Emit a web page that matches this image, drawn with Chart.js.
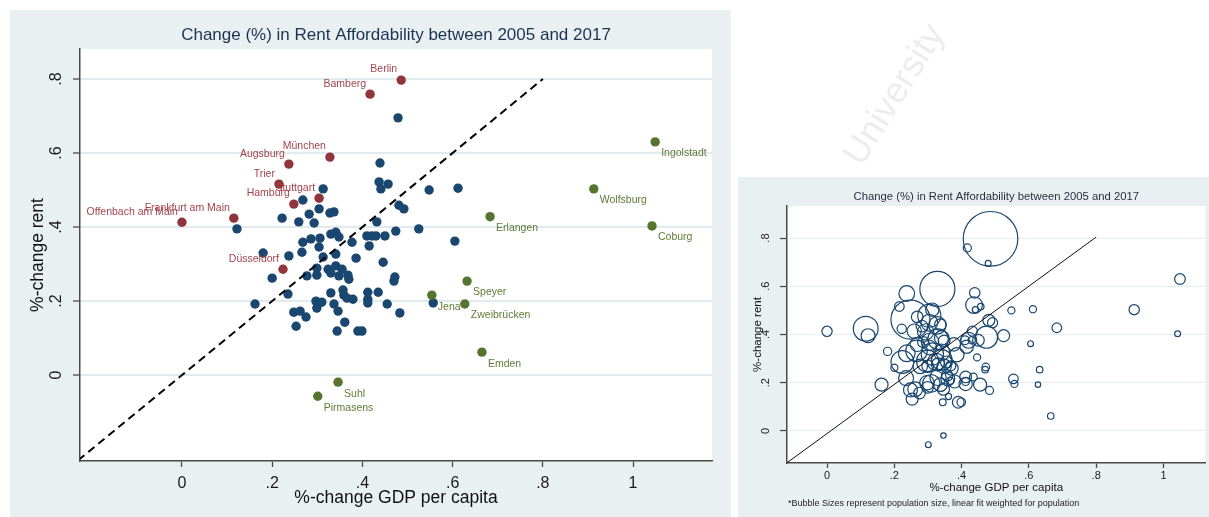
<!DOCTYPE html>
<html>
<head>
<meta charset="utf-8">
<title>Rent affordability 2005-2017</title>
<script src="https://cdn.jsdelivr.net/npm/chart.js@4.4.1/dist/chart.umd.min.js"></script>
<style>
  html, body { margin: 0; padding: 0; background: #fff; }
  body { width: 1209px; height: 517px; position: relative; overflow: hidden; }
  #bg { position: absolute; left: 0; top: 0; }
  .panel { position: absolute; }
  #mainWrap { left: 10px; top: 10px; width: 721px; height: 507px; }
  /* wider than the window: the bubble controller reserves room for its biggest bubble on the right */
  #bubbleWrap { left: 738px; top: 177px; width: 496px; height: 340px; }
</style>
</head>
<body>
<canvas id="bg" width="1209" height="517"></canvas>
<div class="panel" id="mainWrap"><canvas id="mainChart"></canvas></div>
<div class="panel" id="bubbleWrap"><canvas id="bubbleChart"></canvas></div>
<script>
const FONT = '"Liberation Sans", Arial, sans-serif';
Chart.defaults.font.family = FONT;

// unlabelled cities: %-change GDP per capita, %-change rent, population (thousands)
const otherGdp = [0.479, 0.439, 0.437, 0.441, 0.457, 0.313, 0.548, 0.612, 0.268, 0.481,
  0.492, 0.304, 0.282, 0.328, 0.337, 0.222, 0.259, 0.293, 0.432, 0.122,
  0.474, 0.525, 0.330, 0.341, 0.348, 0.306, 0.286, 0.268, 0.304, 0.377,
  0.410, 0.421, 0.430, 0.450, 0.415, 0.605, 0.266, 0.237, 0.180, 0.313,
  0.341, 0.386, 0.446, 0.200, 0.277, 0.299, 0.299, 0.324, 0.330, 0.341,
  0.355, 0.348, 0.368, 0.370, 0.472, 0.470, 0.235, 0.162, 0.297, 0.310,
  0.299, 0.330, 0.337, 0.346, 0.357, 0.359, 0.366, 0.379, 0.412, 0.412,
  0.412, 0.435, 0.455, 0.483, 0.248, 0.262, 0.275, 0.253, 0.361, 0.344,
  0.390, 0.399, 0.557];
const otherRent = [0.695, 0.573, 0.522, 0.503, 0.516, 0.503, 0.500, 0.505, 0.473, 0.459,
  0.449, 0.449, 0.435, 0.438, 0.441, 0.424, 0.414, 0.411, 0.414, 0.395,
  0.389, 0.395, 0.381, 0.386, 0.373, 0.370, 0.368, 0.359, 0.346, 0.359,
  0.376, 0.376, 0.376, 0.376, 0.349, 0.362, 0.332, 0.322, 0.330, 0.319,
  0.327, 0.316, 0.305, 0.262, 0.268, 0.289, 0.270, 0.286, 0.276, 0.295,
  0.286, 0.268, 0.270, 0.259, 0.265, 0.254, 0.219, 0.192, 0.200, 0.197,
  0.181, 0.222, 0.192, 0.173, 0.230, 0.216, 0.208, 0.205, 0.224, 0.205,
  0.195, 0.224, 0.192, 0.168, 0.170, 0.173, 0.157, 0.132, 0.143, 0.119,
  0.119, 0.119, 0.195];
const otherPop = [40, 130, 330, 45, 50, 210, 60, 60, 160, 170,
  120, 330, 160, 360, 160, 100, 240, 310, 120, 230,
  580, 170, 500, 250, 160, 360, 150, 240, 250, 210,
  90, 300, 60, 160, 210, 40, 545, 330, 80, 585,
  310, 240, 60, 60, 250, 580, 160, 350, 200, 500,
  170, 245, 120, 210, 70, 50, 265, 200, 245, 365,
  160, 310, 220, 170, 150, 230, 60, 200, 160, 75,
  210, 70, 200, 75, 230, 260, 160, 170, 45, 55,
  160, 85, 60];

// rent grew faster than income
const highCities = ['Berlin', 'Bamberg', 'München', 'Augsburg', 'Trier', 'Stuttgart',
  'Hamburg', 'Frankfurt am Main', 'Offenbach am Main', 'Düsseldorf'];
const highGdp = [0.486, 0.417, 0.328, 0.237, 0.215, 0.304, 0.248, 0.115, 0.000, 0.224];
const highRent = [0.797, 0.759, 0.589, 0.570, 0.516, 0.478, 0.462, 0.424, 0.413, 0.286];
const highPop = [3520, 77, 1450, 290, 110, 630, 1800, 730, 125, 610];

// income grew faster than rent
const lowCities = ['Ingolstadt', 'Wolfsburg', 'Coburg', 'Erlangen', 'Speyer', 'Jena',
  'Zweibrücken', 'Emden', 'Suhl', 'Pirmasens'];
const lowGdp = [1.049, 0.913, 1.042, 0.683, 0.632, 0.554, 0.627, 0.665, 0.346, 0.301];
const lowRent = [0.630, 0.503, 0.403, 0.428, 0.254, 0.216, 0.192, 0.062, -0.019, -0.057];
const lowPop = [135, 124, 41, 110, 50, 110, 34, 50, 35, 40];

// 45 degree reference line and weighted fit
const diagX = [-0.23, 0.8];
const diagY = [-0.23, 0.8];
const fitX = [-0.12, 0.8];
const fitY = [-0.133, 0.804];

const xTicks = [0, 0.2, 0.4, 0.6, 0.8, 1];
const xTickLabels = ['0', '.2', '.4', '.6', '.8', '1'];
const yTicks = [0, 0.2, 0.4, 0.6, 0.8];
const yTickLabels = ['0', '.2', '.4', '.6', '.8'];

const TITLE = 'Change (%) in Rent Affordability between 2005 and 2017';
const NAVY = '#1a476f';
const MAROON = '#90353b';
const OLIVE = '#55752f';

const pts = (xs, ys) => xs.map((x, i) => ({ x, y: ys[i] }));

// faint seal lettering behind the panels
(function drawBackdrop() {
  const g = document.getElementById('bg').getContext('2d');
  g.save();
  g.translate(895, 95);
  g.rotate(-58 * Math.PI / 180);
  g.font = '36px ' + FONT;
  g.fillStyle = '#ededed';
  g.textAlign = 'center';
  g.textBaseline = 'middle';
  g.fillText('University', 0, 0);
  g.restore();
})();

// grey graph region, white plot region, heading over the plot, optional note
const panelBg = {
  id: 'panelBg',
  beforeDraw(chart, args, o) {
    const { ctx, chartArea: a } = chart;
    ctx.save();
    ctx.fillStyle = o.outer;
    ctx.fillRect(0, 0, chart.width, chart.height);
    ctx.fillStyle = '#ffffff';
    ctx.fillRect(a.left, a.top, a.right - a.left, a.bottom - a.top);
    ctx.font = o.titleSize + 'px ' + FONT;
    ctx.fillStyle = o.titleColor;
    ctx.textAlign = 'center';
    ctx.textBaseline = 'middle';
    ctx.fillText(TITLE, (a.left + a.right) / 2, o.titleY);
    if (o.note) {
      ctx.font = '9px ' + FONT;
      ctx.fillStyle = '#222';
      ctx.textAlign = 'left';
      ctx.fillText(o.note, a.left + 1, o.noteY);
    }
    ctx.restore();
  }
};

// city names next to the coloured markers
const cityLabels = {
  id: 'cityLabels',
  afterDatasetsDraw(chart) {
    const { ctx, scales: { x, y } } = chart;
    ctx.save();
    ctx.font = '10.5px ' + FONT;
    ctx.textBaseline = 'middle';
    ctx.fillStyle = '#a2434d';
    ctx.textAlign = 'right';
    highCities.forEach((name, i) => {
      ctx.fillText(name, x.getPixelForValue(highGdp[i]) - 4, y.getPixelForValue(highRent[i]) - 10.5);
    });
    ctx.fillStyle = '#5e7c36';
    ctx.textAlign = 'left';
    lowCities.forEach((name, i) => {
      ctx.fillText(name, x.getPixelForValue(lowGdp[i]) + 6, y.getPixelForValue(lowRent[i]) + 11.5);
    });
    ctx.restore();
  }
};

function xAxis(cfg) {
  return {
    type: 'linear', min: cfg.min, max: cfg.max,
    afterBuildTicks: s => { s.ticks = xTicks.map(v => ({ value: v })); },
    afterFit: s => { s.height = cfg.height; },
    ticks: {
      callback: (v, i) => xTickLabels[i], autoSkip: false, maxRotation: 0,
      font: { size: cfg.tickSize }, color: '#1a1a1a', padding: cfg.tickPad
    },
    grid: { drawOnChartArea: false, tickLength: cfg.tickLen, tickColor: '#4a4a4a', tickWidth: 1.3 },
    border: { color: '#4a4a4a', width: 1.5 },
    title: {
      display: true, text: '%-change GDP per capita', color: '#111',
      font: { size: cfg.titleSize }, padding: { top: 0, bottom: cfg.titlePad }
    }
  };
}

function yAxis(cfg) {
  return {
    type: 'linear', min: cfg.min, max: cfg.max,
    afterBuildTicks: s => { s.ticks = yTicks.map(v => ({ value: v })); },
    afterFit: s => { s.width = cfg.width; },
    ticks: {
      callback: (v, i) => yTickLabels[i], autoSkip: false,
      minRotation: 90, maxRotation: 90, crossAlign: 'center',
      font: { size: cfg.tickSize }, color: '#1a1a1a', padding: cfg.tickPad
    },
    grid: { color: cfg.gridColor, lineWidth: cfg.gridWidth, tickLength: 7, tickColor: '#4a4a4a', tickWidth: 1.3 },
    border: { color: '#4a4a4a', width: 1.5 },
    title: {
      display: true, text: '%-change rent', color: '#111',
      font: { size: cfg.titleSize }, padding: { top: cfg.titlePad, bottom: 0 }
    }
  };
}

const dot = (xs, ys, color) => ({
  data: pts(xs, ys), backgroundColor: color, borderColor: color,
  borderWidth: 0, pointRadius: 4.7, pointHoverRadius: 4.7
});

new Chart(document.getElementById('mainChart'), {
  type: 'scatter',
  data: {
    datasets: [
      {
        data: pts(diagX, diagY), showLine: true, borderColor: '#000', borderWidth: 2,
        borderDash: [8, 5], pointRadius: 0, fill: false
      },
      dot(lowGdp, lowRent, OLIVE),
      dot(highGdp, highRent, MAROON),
      dot(otherGdp, otherRent, NAVY)
    ]
  },
  options: {
    responsive: true, maintainAspectRatio: false, animation: false, events: [],
    layout: { padding: { top: 39, right: 19, bottom: 0, left: 0 } },
    scales: {
      x: xAxis({ min: -0.226, max: 1.175, height: 56, tickSize: 16, tickPad: 7, tickLen: 6, titleSize: 17.5, titlePad: 8.5 }),
      y: yAxis({ min: -0.232, max: 0.881, width: 70, tickSize: 16, tickPad: 10, titleSize: 17.5, titlePad: 18, gridColor: '#e1eaee', gridWidth: 2 })
    },
    plugins: {
      legend: { display: false }, tooltip: { enabled: false },
      panelBg: { outer: '#e9f0f2', titleSize: 17, titleColor: '#1f3152', titleY: 25 }
    }
  },
  plugins: [panelBg, cityLabels]
});

// population-weighted bubbles
const allGdp = otherGdp.concat(highGdp, lowGdp);
const allRent = otherRent.concat(highRent, lowRent);
const allPop = otherPop.concat(highPop, lowPop);

new Chart(document.getElementById('bubbleChart'), {
  type: 'bubble',
  data: {
    datasets: [
      {
        type: 'line', data: pts(fitX, fitY), borderColor: '#111', borderWidth: 1,
        pointRadius: 0, fill: false
      },
      {
        data: allGdp.map((x, i) => ({ x, y: allRent[i], r: 0.46 * Math.sqrt(allPop[i]) })),
        backgroundColor: 'rgba(0,0,0,0)', borderColor: NAVY, borderWidth: 1.2
      }
    ]
  },
  options: {
    responsive: true, maintainAspectRatio: false, animation: false, events: [],
    layout: { padding: { top: 29, right: 0, bottom: 0, left: 0 } },
    scales: {
      x: xAxis({ min: -0.119, max: 1.125, height: 54, tickSize: 11, tickPad: 1, tickLen: 5, titleSize: 11.5, titlePad: 22 }),
      y: yAxis({ min: -0.133, max: 0.933, width: 49, tickSize: 11, tickPad: 9.4, titleSize: 11.5, titlePad: 13, gridColor: '#e6eef1', gridWidth: 1 })
    },
    plugins: {
      legend: { display: false }, tooltip: { enabled: false },
      panelBg: {
        outer: '#e9f0f2', titleSize: 11.3, titleColor: '#27313f', titleY: 20,
        note: '*Bubble Sizes represent population size, linear fit weighted for population', noteY: 327
      }
    }
  },
  plugins: [panelBg]
});
</script>
</body>
</html>
